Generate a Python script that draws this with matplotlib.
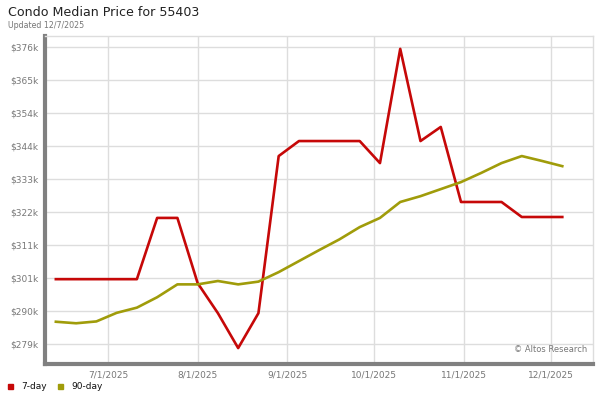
import matplotlib
matplotlib.use("Agg")
import matplotlib.pyplot as plt
from matplotlib.patches import Rectangle
import datetime as dt

# ---- data ----
start = dt.date(2025, 6, 13)
dates = [start + dt.timedelta(days=7 * i) for i in range(26)]

seven_day = [300.2, 300.2, 300.2, 300.2, 300.2, 320.2, 320.2, 298.9, 289.1, 277.7,
             289.1, 340.4, 345.3, 345.3, 345.3, 345.3, 338.1, 375.4, 345.3, 349.9,
             325.4, 325.4, 325.4, 320.5, 320.5, 320.5]
ninety_day = [286.3, 285.8, 286.4, 289.2, 290.9, 294.3, 298.5, 298.5, 299.6, 298.5,
              299.4, 302.5, 306.1, 309.7, 313.2, 317.2, 320.2, 325.4, 327.3, 329.6,
              331.9, 334.9, 338.1, 340.4, 338.8, 337.1]

y_ticks = [279 + i * 10.78 for i in range(10)]
y_labels = ["$279k", "$290k", "$301k", "$311k", "$322k", "$333k", "$344k", "$354k", "$365k", "$376k"]
x_ticks = [dt.date(2025, m, 1) for m in range(7, 13)]
x_labels = ["7/1/2025", "8/1/2025", "9/1/2025", "10/1/2025", "11/1/2025", "12/1/2025"]

RED = "#c60808"
OLIVE = "#a09c0a"

fig = plt.figure(figsize=(6, 4), dpi=100)
ax = fig.add_axes([0.075, 0.09, 0.913, 0.82])

ax.plot(dates, seven_day, color=RED, lw=1.9, zorder=3)
ax.plot(dates, ninety_day, color=OLIVE, lw=1.9, zorder=3)

ax.set_ylim(272.5, 379.6)
ax.set_xlim(dt.datetime(2025, 6, 9, 6), dt.datetime(2025, 12, 15, 13))
ax.set_yticks(y_ticks)
ax.set_yticklabels(y_labels)
ax.set_xticks(x_ticks)
ax.set_xticklabels(x_labels)
ax.tick_params(axis="both", length=0, labelsize=6.5, labelcolor="#777777")
ax.tick_params(axis="y", pad=5)
ax.tick_params(axis="x", pad=5)
ax.grid(True, color="#dddddd", lw=1)
ax.set_axisbelow(True)

for s in ["top", "right"]:
    ax.spines[s].set_color("#dddddd")
    ax.spines[s].set_linewidth(1)
for s in ["left", "bottom"]:
    ax.spines[s].set_color("#808080")
    ax.spines[s].set_linewidth(3)

ax.text(0.99, 0.03, "© Altos Research", transform=ax.transAxes, ha="right", va="bottom",
        fontsize=6, color="#777777")

fig.text(8 / 600, 1 - 13 / 400, "Condo Median Price for 55403", fontsize=9.1, color="#222222",
         ha="left", va="center")
fig.text(8 / 600, 1 - 25 / 400, "Updated 12/7/2025", fontsize=5.7, color="#777777",
         ha="left", va="center")

# legend
fig.patches.append(Rectangle((8 / 600, 1 - 389 / 400), 5 / 600, 5 / 400, transform=fig.transFigure,
                             color=RED, figure=fig))
fig.text(21 / 600, 1 - 386.5 / 400, "7-day", fontsize=6.5, color="#111111", ha="left", va="center")
fig.patches.append(Rectangle((58 / 600, 1 - 389 / 400), 5 / 600, 5 / 400, transform=fig.transFigure,
                             color=OLIVE, figure=fig))
fig.text(71 / 600, 1 - 386.5 / 400, "90-day", fontsize=6.5, color="#111111", ha="left", va="center")

fig.savefig("out.png", dpi=100)
